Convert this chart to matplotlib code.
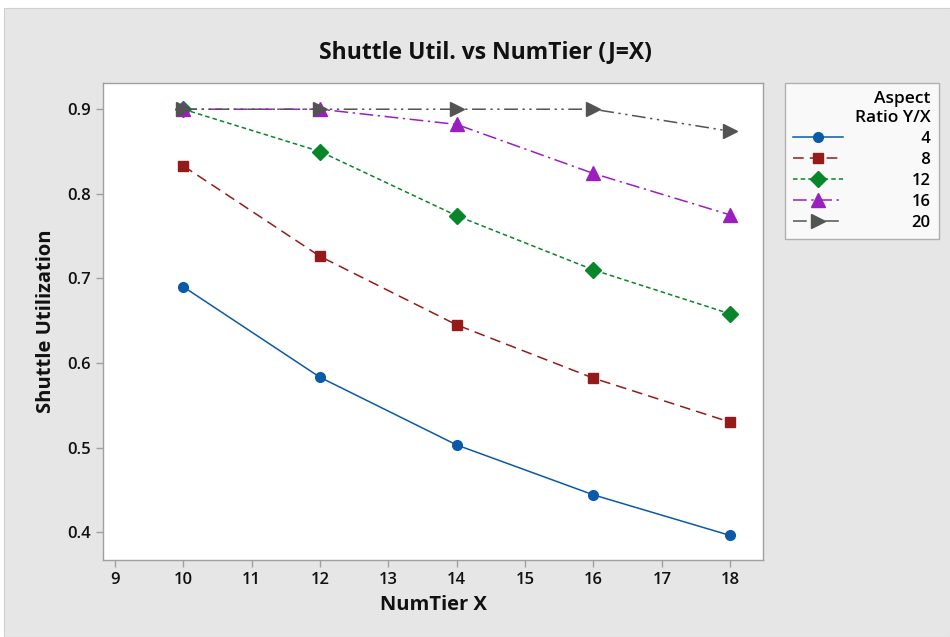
import matplotlib
matplotlib.use("Agg")
import matplotlib.pyplot as plt
from matplotlib.patches import Rectangle

plt.rcParams['font.family'] = ['Open Sans', 'DejaVu Sans']

x = [10, 12, 14, 16, 18]
ratios = ["4", "8", "12", "16", "20"]
util_4 = [0.690, 0.583, 0.503, 0.444, 0.396]
util_8 = [0.833, 0.726, 0.645, 0.582, 0.530]
util_12 = [0.900, 0.850, 0.774, 0.710, 0.658]
util_16 = [0.900, 0.900, 0.882, 0.824, 0.775]
util_20 = [0.900, 0.900, 0.900, 0.900, 0.874]
series = [util_4, util_8, util_12, util_16, util_20]
xticks = [9, 10, 11, 12, 13, 14, 15, 16, 17, 18]
yticks = [0.4, 0.5, 0.6, 0.7, 0.8, 0.9]

colors = ["#0b5aa8", "#951b1b", "#07862a", "#9b1fbf", "#535353"]
markers = ["o", "s", "D", "^", ">"]
msizes = [7, 7, 8, 10, 10]
dashes = [None, (7, 4), (3, 2), (9, 3, 1.5, 3), (9, 3, 1.5, 3, 1.5, 3)]

W, H = 950, 637
fig = plt.figure(figsize=(W / 100, H / 100), dpi=100, facecolor="white")
fig.patches.append(Rectangle((4 / W, 0), 1 - 4 / W, 1 - 8 / H, transform=fig.transFigure,
                             facecolor="#e6e6e6", edgecolor="#d0d0d0", lw=0.8, zorder=-10))

ax = fig.add_axes([103 / W, 1 - 560 / H, (763 - 103) / W, (560 - 83) / H])
ax.set_facecolor("white")

handles = []
for ys, c, m, ms, d, lab in zip(series, colors, markers, msizes, dashes, ratios):
    ln, = ax.plot(x, ys, color=c, marker=m, markersize=ms, lw=1.1,
                  markeredgecolor=c, label=lab, zorder=3)
    if d is not None:
        ln.set_dashes(d)
    handles.append(ln)

ax.set_xlim(8.825, 18.48)
ax.set_ylim(0.367, 0.931)
ax.set_xticks(xticks)
ax.set_yticks(yticks)
ax.set_xticklabels([str(t) for t in xticks])
ax.set_yticklabels([f"{t:.1f}" for t in yticks])
for s in ax.spines.values():
    s.set_color("#a0a0a0")
    s.set_linewidth(1)
ax.tick_params(axis="both", direction="out", length=5, width=1, color="#a0a0a0",
               labelsize=12, labelcolor="#111111", pad=4)
for t in ax.get_xticklabels() + ax.get_yticklabels():
    t.set_fontweight("semibold")

ax.set_xlabel("NumTier X", fontsize=14.5, fontweight="bold", color="#111111", labelpad=5)
ax.set_ylabel("Shuttle Utilization", fontsize=14.5, fontweight="bold", color="#111111", labelpad=8)
fig.text(485 / W, 1 - 52 / H, "Shuttle Util. vs NumTier (J=X)", ha="center", va="center",
         fontsize=16.5, fontweight="bold", color="#111111")

labels = ["\u2007" + r if len(r) == 1 else r for r in ratios]
leg = ax.legend(handles, labels, title="Aspect\nRatio Y/X", loc="upper left",
                bbox_to_anchor=(785 / W, 1 - 83 / H), bbox_transform=fig.transFigure,
                frameon=True, fancybox=False, edgecolor="#a0a0a0", facecolor="white",
                fontsize=12, title_fontsize=12.5, handlelength=3.0, handletextpad=4.1,
                labelspacing=0.3, borderpad=0.5, borderaxespad=0, alignment="right")
leg.get_frame().set_linewidth(1)
leg.get_title().set_fontweight("semibold")
leg.get_title().set_multialignment("right")
for t in leg.get_texts():
    t.set_fontweight("semibold")

fig.savefig("out.png", dpi=100, facecolor=fig.get_facecolor())
